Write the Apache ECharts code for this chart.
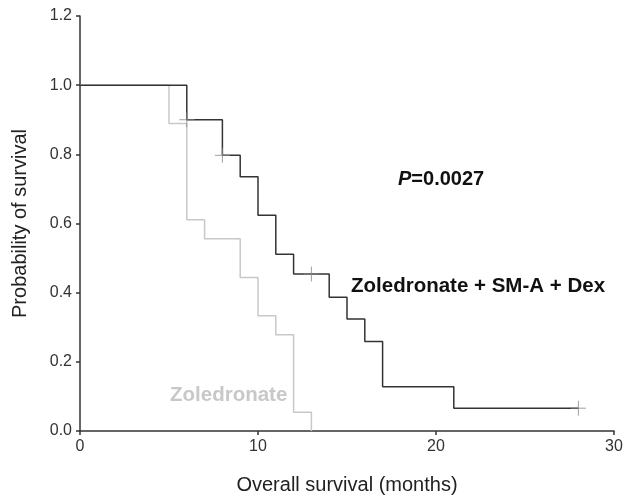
<!DOCTYPE html>
<html>
<head>
<meta charset="utf-8">
<script src="https://cdn.jsdelivr.net/npm/echarts@6/dist/echarts.min.js"></script>
<style>
  html, body { margin: 0; padding: 0; background: #fff; }
  #main { width: 633px; height: 500px; }
</style>
</head>
<body>
<div id="main"></div>
<script>
// Kaplan-Meier steps: survival after each event time
var comboTimes = [0, 6, 8, 9, 10, 11, 12, 14, 15, 16, 17, 21, 28];
var comboSurv = [1.0, 0.9, 0.797, 0.735, 0.624, 0.511, 0.454, 0.387, 0.324, 0.259, 0.128, 0.066, 0.066];
var comboCensorTimes = [6, 8, 13, 28];
var comboCensorSurv = [0.9, 0.797, 0.454, 0.066];

var zolTimes = [0, 5, 6, 7, 9, 10, 11, 12, 13];
var zolSurv = [1.0, 0.889, 0.611, 0.556, 0.444, 0.333, 0.278, 0.054, 0.0];

var xTicks = [0, 10, 20, 30];
var yTicks = [0, 0.2, 0.4, 0.6, 0.8, 1.0, 1.2];

function pairs(xs, ys) {
    var out = [];
    for (var i = 0; i < xs.length; i++) {
        out.push([xs[i], ys[i]]);
    }
    return out;
}

var font = 'Liberation Sans, Arial, sans-serif';
var crossSymbol = 'path://M0,5L10,5M5,0L5,10';

var chart = echarts.init(document.getElementById('main'));
var option = {
    backgroundColor: '#fff',
    animation: false,
    grid: { left: 80, right: 19, top: 16, bottom: 66 },
    xAxis: {
        type: 'value',
        min: xTicks[0],
        max: xTicks[xTicks.length - 1],
        interval: 10,
        name: 'Overall survival (months)',
        nameLocation: 'middle',
        nameGap: 44,
        nameTextStyle: { fontFamily: font, fontSize: 20, color: '#222' },
        axisLine: { lineStyle: { color: '#333', width: 1.5 } },
        axisTick: { show: true, length: 4, lineStyle: { color: '#333', width: 1.5 } },
        axisLabel: { fontFamily: font, fontSize: 16, color: '#333', margin: 8 },
        splitLine: { show: false }
    },
    yAxis: {
        type: 'value',
        min: yTicks[0],
        max: yTicks[yTicks.length - 1],
        interval: 0.2,
        name: 'Probability of survival',
        nameLocation: 'middle',
        nameGap: 50,
        nameTextStyle: { fontFamily: font, fontSize: 20, color: '#222' },
        axisLine: { show: true, lineStyle: { color: '#333', width: 1.5 } },
        axisTick: { show: true, length: 4, lineStyle: { color: '#333', width: 1.5 } },
        axisLabel: {
            fontFamily: font, fontSize: 16, color: '#333', margin: 8,
            formatter: function (v) { return v.toFixed(1); }
        },
        splitLine: { show: false }
    },
    series: [
        {
            name: 'Zoledronate',
            type: 'line',
            step: 'end',
            data: pairs(zolTimes, zolSurv),
            showSymbol: false,
            lineStyle: { color: '#c8c8c8', width: 1.5 },
            z: 2
        },
        {
            name: 'Zoledronate + SM-A + Dex',
            type: 'line',
            step: 'end',
            data: pairs(comboTimes, comboSurv),
            showSymbol: false,
            lineStyle: { color: '#333', width: 1.5 },
            z: 3
        },
        {
            name: 'censored',
            type: 'scatter',
            data: pairs(comboCensorTimes, comboCensorSurv),
            symbol: crossSymbol,
            symbolSize: 15,
            itemStyle: { color: 'transparent', borderColor: '#888', borderWidth: 1 },
            z: 4
        }
    ],
    graphic: [
        {
            type: 'text', left: 398, top: 169,
            style: {
                text: '{i|P}=0.0027',
                rich: { i: { fontStyle: 'italic', fontWeight: 'bold', fontSize: 20, fontFamily: font, fill: '#111' } },
                font: 'bold 20px ' + font, fill: '#111'
            }
        },
        {
            type: 'text', left: 351, top: 276,
            style: { text: 'Zoledronate + SM-A + Dex', font: 'bold 20.5px ' + font, fill: '#111' }
        },
        {
            type: 'text', left: 170, top: 385,
            style: { text: 'Zoledronate', font: 'bold 20.5px ' + font, fill: '#c8c8c8' }
        }
    ]
};
chart.setOption(option);
</script>
</body>
</html>
